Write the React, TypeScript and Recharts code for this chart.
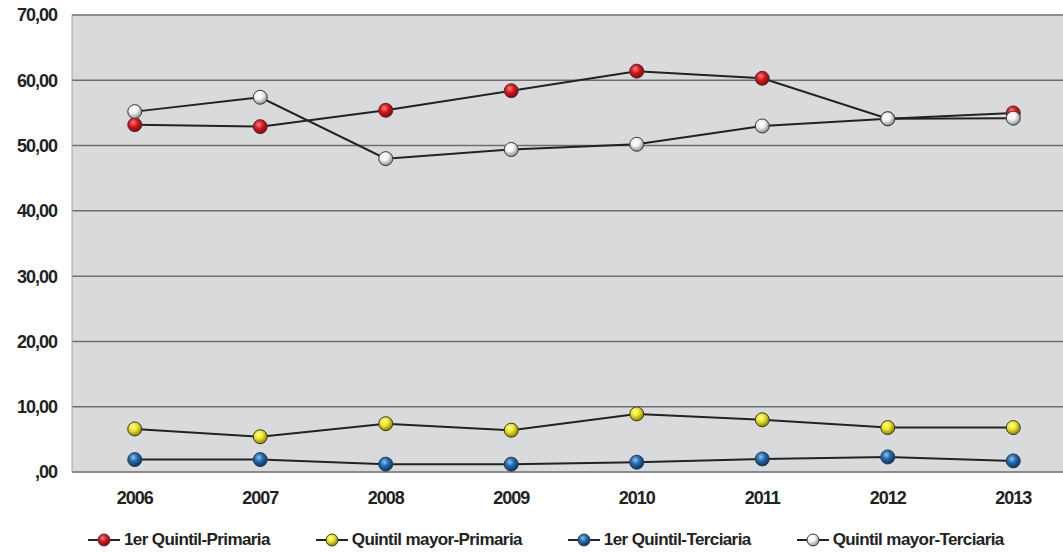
import { CartesianGrid, Legend, Line, LineChart, XAxis, YAxis } from 'recharts'

const years = ['2006', '2007', '2008', '2009', '2010', '2011', '2012', '2013']
const primeroPrimaria = [53.2, 52.9, 55.4, 58.4, 61.4, 60.3, 54.1, 55.0]
const mayorPrimaria = [6.6, 5.4, 7.4, 6.4, 8.9, 8.0, 6.8, 6.8]
const primeroTerciaria = [1.9, 1.9, 1.2, 1.2, 1.5, 2.0, 2.3, 1.7]
const mayorTerciaria = [55.2, 57.4, 48.0, 49.4, 50.2, 53.0, 54.1, 54.2]
const yTicks = [0, 10, 20, 30, 40, 50, 60, 70]

const series = [
  { key: 'p1', name: '1er Quintil-Primaria', grad: 'gRed', light: '#ff8a80', base: '#e3121b', dark: '#7a0a0a' },
  { key: 'pm', name: 'Quintil mayor-Primaria', grad: 'gYellow', light: '#fffbb0', base: '#ede61a', dark: '#8a7f05' },
  { key: 't1', name: '1er Quintil-Terciaria', grad: 'gBlue', light: '#8cc4f2', base: '#1f6db5', dark: '#0d3360' },
  { key: 'tm', name: 'Quintil mayor-Terciaria', grad: 'gWhite', light: '#ffffff', base: '#f2f2f2', dark: '#8c8c8c' },
]

const data = years.map((y, i) => ({
  year: y,
  p1: primeroPrimaria[i],
  pm: mayorPrimaria[i],
  t1: primeroTerciaria[i],
  tm: mayorTerciaria[i],
}))

const fmt = (v: number) => (v === 0 ? ',00' : v.toFixed(2).replace('.', ','))

const font = '"Liberation Sans", Arial, sans-serif'

function Ball({ cx, cy, grad, r = 7 }: { cx?: number; cy?: number; grad: string; r?: number }) {
  if (cx == null || cy == null) return null
  return <circle cx={cx} cy={cy} r={r} fill={`url(#${grad})`} stroke="#3a3a3a" strokeWidth={1} />
}

function LegendContent() {
  return (
    <div
      style={{
        display: 'flex',
        alignItems: 'flex-end',
        height: 40,
        gap: 46,
        paddingLeft: 88,
        fontFamily: font,
        fontWeight: 'bold',
        fontSize: 17,
        letterSpacing: -0.6,
        color: '#222',
      }}
    >
      {series.map((s) => (
        <div key={s.key} style={{ display: 'flex', alignItems: 'center', gap: 4, paddingBottom: 3 }}>
          <svg width={32} height={16}>
            <line x1={0} y1={8} x2={32} y2={8} stroke="#222" strokeWidth={2} />
            <Ball cx={16} cy={8} grad={s.grad} r={6} />
          </svg>
          <span>{s.name}</span>
        </div>
      ))}
    </div>
  )
}

export default function App() {
  return (
    <div style={{ position: 'absolute', left: 0, top: 0, width: 1063, height: 553, overflow: 'hidden', background: '#fff' }}>
      <LineChart width={1077} height={553} data={data} margin={{ top: 15, right: 1, left: 0, bottom: 0 }}>
        <defs>
          {series.map((s) => (
            <radialGradient key={s.grad} id={s.grad} cx="40%" cy="35%" r="65%">
              <stop offset="0%" stopColor={s.light} />
              <stop offset="45%" stopColor={s.base} />
              <stop offset="100%" stopColor={s.dark} />
            </radialGradient>
          ))}
        </defs>
        <CartesianGrid vertical={false} fill="#d9dadc" stroke="#6e6e6e" strokeWidth={1.5} />
        <XAxis
          dataKey="year"
          height={41}
          padding={{ left: 62.75, right: 62.75 }}
          tickLine={false}
          axisLine={{ stroke: '#8a8a8a', strokeWidth: 1.5 }}
          tick={{ fill: '#222', fontSize: 18, fontWeight: 'bold', fontFamily: font, letterSpacing: -1 }}
          tickMargin={13}
        />
        <YAxis
          domain={[0, 70]}
          ticks={yTicks}
          tickFormatter={fmt}
          width={72}
          tickLine={false}
          axisLine={{ stroke: '#a0a0a0' }}
          tickMargin={9}
          tick={{ fill: '#222', fontSize: 18, fontWeight: 'bold', fontFamily: font, letterSpacing: -1 }}
        />
        <Legend verticalAlign="bottom" height={40} content={<LegendContent />} />
        {series.map((s) => (
          <Line
            key={s.key}
            dataKey={s.key}
            name={s.name}
            type="linear"
            stroke="#222"
            strokeWidth={2}
            dot={(p: any) => <Ball key={`${s.key}-${p.index}`} cx={p.cx} cy={p.cy} grad={s.grad} />}
            activeDot={false}
            isAnimationActive={false}
          />
        ))}
      </LineChart>
    </div>
  )
}
